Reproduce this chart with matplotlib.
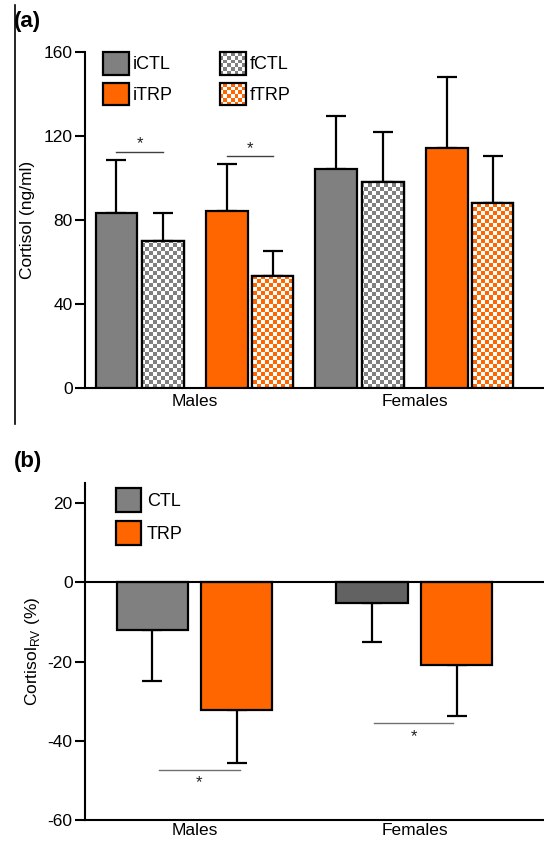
import numpy as np
import matplotlib
matplotlib.use("Agg")
import matplotlib.pyplot as plt
from matplotlib.patches import Rectangle
from matplotlib.legend_handler import HandlerPatch
from matplotlib.lines import Line2D

plt.rcParams['font.family'] = ['Liberation Sans', 'DejaVu Sans']
plt.rcParams['axes.unicode_minus'] = False

# ---------------- data ----------------
groups = ["Males", "Females"]
a_series = ["iCTL", "fCTL", "iTRP", "fTRP"]
a_means = {"iCTL": [83.2, 104.3], "fCTL": [70.1, 98.1],
           "iTRP": [84.4, 114.3], "fTRP": [53.5, 88.1]}
a_err = {"iCTL": [25.2, 25.1], "fCTL": [13.4, 23.8],
         "iTRP": [22.1, 33.6], "fTRP": [11.9, 22.2]}
a_yticks = [0, 40, 80, 120, 160]
# significance markers panel a: (group, series_from, series_to, y)
a_sig = [(0, "iCTL", "fCTL", 112.4), (0, "iTRP", "fTRP", 110.3)]

b_series = ["CTL", "TRP"]
b_means = {"CTL": [-11.9, -5.1], "TRP": [-32.1, -20.8]}
b_err = {"CTL": [12.9, 9.9], "TRP": [13.4, 13.0]}
b_yticks = [-60, -40, -20, 0, 20]
# significance markers panel b: (group, x_from, x_to, y_line, y_star)
b_sig = [(0, -0.16, 0.205, -47.4, -50.6), (1, -0.184, 0.177, -35.6, -38.9)]

# ---------------- style ----------------
GRAY = "#808080"
GRAY_DARK = "#626262"
ORANGE = "#FF6600"
a_colors = {"iCTL": GRAY, "fCTL": GRAY, "iTRP": ORANGE, "fTRP": ORANGE}
a_checker = {"iCTL": False, "fCTL": True, "iTRP": False, "fTRP": True}
a_offsets = {"iCTL": -0.355, "fCTL": -0.143, "iTRP": 0.148, "fTRP": 0.355}
a_width = 0.19
b_offsets = {"CTL": -0.193, "TRP": 0.193}
b_width = 0.323
b_colors = {"CTL": [GRAY, GRAY_DARK], "TRP": [ORANGE, ORANGE]}

W, H = 544, 841
fig = plt.figure(figsize=(W / 100, H / 100), dpi=100)

def fx(px):
    return px / W

def fy(py):
    return 1 - py / H

ax_a = fig.add_axes([fx(85), fy(388), fx(544) - fx(85), fy(52) - fy(388)])
ax_b = fig.add_axes([fx(85), fy(820), fx(544) - fx(85), fy(482.7) - fy(820)])

XLIM = (-0.498, 1.589)


def checker_image(color, ncols, nrows):
    rgb = np.array(matplotlib.colors.to_rgb(color))
    yy, xx = np.mgrid[0:nrows, 0:ncols]
    mask = (xx + yy) % 2 == 0
    img = np.ones((nrows, ncols, 3))
    img[mask] = rgb
    return img


class CheckerHandler(HandlerPatch):
    def __init__(self, color, n=7, **kw):
        super().__init__(**kw)
        self.color = color
        self.n = n

    def create_artists(self, legend, orig_handle, xdescent, ydescent,
                       width, height, fontsize, trans):
        arts = []
        bg = Rectangle((-xdescent, -ydescent), width, height,
                       facecolor="white", edgecolor="none", transform=trans)
        arts.append(bg)
        nx = self.n
        ny = int(round(self.n * height / width))
        cw, ch = width / nx, height / ny
        for i in range(nx):
            for j in range(ny):
                if (i + j) % 2 == 0:
                    arts.append(Rectangle((-xdescent + i * cw, -ydescent + j * ch),
                                          cw, ch, facecolor=self.color,
                                          edgecolor="none", transform=trans))
        border = Rectangle((-xdescent, -ydescent), width, height,
                           facecolor="none", edgecolor="black", lw=1.6,
                           transform=trans)
        arts.append(border)
        return arts


def style_axes(ax):
    for s in ["top", "right"]:
        ax.spines[s].set_visible(False)
    for s in ["left", "bottom"]:
        ax.spines[s].set_linewidth(1.5)
    ax.tick_params(axis="y", length=7, width=1.5, labelsize=12.5, pad=2)
    ax.tick_params(axis="x", length=0, labelsize=12.5)
    ax.set_xlim(*XLIM)
    ax.set_xticks(range(len(groups)))
    ax.set_xticklabels(groups)


# ---------------- panel a ----------------
x = np.arange(len(groups))
handles_a = {}
for s in a_series:
    xs = x + a_offsets[s]
    fc = "white" if a_checker[s] else a_colors[s]
    bars = ax_a.bar(xs, a_means[s], width=a_width, color=fc,
                    edgecolor="black", linewidth=1.6, zorder=3)
    ax_a.errorbar(xs, a_means[s], yerr=[np.zeros(len(groups)), a_err[s]],
                  fmt="none", ecolor="black", elinewidth=1.6, capsize=7.5,
                  capthick=1.6, zorder=2)
    if a_checker[s]:
        img = checker_image(a_colors[s], 115, 84)
        for b in bars:
            im = ax_a.imshow(img, extent=(XLIM[0], XLIM[1], 0, 160),
                             aspect="auto", interpolation="nearest",
                             zorder=3.5)
            im.set_clip_path(b)
            ax_a.bar(b.get_x() + b.get_width() / 2, b.get_height(),
                     width=b.get_width(), color="none", edgecolor="black",
                     linewidth=1.6, zorder=4)
    handles_a[s] = Rectangle((0, 0), 1, 1, facecolor=fc, edgecolor="black", lw=1.6)

ax_a.set_ylim(0, 160)
ax_a.set_yticks(a_yticks)
style_axes(ax_a)
ax_a.set_aspect("auto")
ax_a.set_xlim(*XLIM)
ax_a.tick_params(axis="x", pad=4)
ax_a.set_ylabel("Cortisol (ng/ml)", fontsize=12.5, labelpad=6)

for g, s1, s2, yv in a_sig:
    x1 = g + a_offsets[s1]
    x2 = g + a_offsets[s2]
    ax_a.plot([x1, x2], [yv, yv], color="#404040", lw=1.0, zorder=3)
    ax_a.text((x1 + x2) / 2, yv + 0.3, "*", ha="center", va="bottom",
              fontsize=12, color="#202020")

leg_a = ax_a.legend([handles_a["iCTL"], handles_a["iTRP"], handles_a["fCTL"], handles_a["fTRP"]],
                    ["iCTL", "iTRP", "fCTL", "fTRP"], ncol=2, frameon=False,
                    loc="upper left", bbox_to_anchor=(fx(103), fy(52)),
                    bbox_transform=fig.transFigure, borderpad=0, borderaxespad=0,
                    fontsize=13, handlelength=1.45, handleheight=1.55,
                    labelspacing=0.45, handletextpad=0.2, columnspacing=2.6,
                    handler_map={handles_a["fCTL"]: CheckerHandler(GRAY),
                                 handles_a["fTRP"]: CheckerHandler(ORANGE)})

# ---------------- panel b ----------------
handles_b = {}
for s in b_series:
    xs = x + b_offsets[s]
    ax_b.bar(xs, b_means[s], width=b_width, color=b_colors[s],
             edgecolor="black", linewidth=1.6, zorder=3)
    ax_b.errorbar(xs, b_means[s], yerr=[b_err[s], np.zeros(len(groups))],
                  fmt="none", ecolor="black", elinewidth=1.6, capsize=7,
                  capthick=1.6, zorder=2)
    handles_b[s] = Rectangle((0, 0), 1, 1, facecolor=b_colors[s][0],
                             edgecolor="black", lw=1.6)

ax_b.axhline(0, color="black", lw=1.5, zorder=4)
ax_b.set_ylim(-60, 25.2)
ax_b.set_yticks(b_yticks)
style_axes(ax_b)
ax_b.tick_params(axis="x", pad=2)
ax_b.set_ylabel(r"Cortisol$_{\mathregular{RV}}$ (%)", fontsize=12.5, labelpad=4)

for g, x1, x2, yl, ys in b_sig:
    ax_b.plot([g + x1, g + x2], [yl, yl], color="#707070", lw=1.0, zorder=3)
    ax_b.text(g + (x1 + x2) / 2, ys, "*", ha="center", va="center",
              fontsize=12, color="#202020")

ax_b.legend([handles_b["CTL"], handles_b["TRP"]], ["CTL", "TRP"],
            frameon=False, loc="upper left", bbox_to_anchor=(fx(116), fy(488)),
            bbox_transform=fig.transFigure, borderpad=0, borderaxespad=0,
            fontsize=13, handlelength=1.4, handleheight=1.7,
            labelspacing=0.45, handletextpad=0.3)

# ---------------- panel labels & frame line ----------------
fig.text(fx(14), fy(22), "(a)", fontsize=16, fontweight="bold", ha="left", va="center")
fig.text(fx(14), fy(462), "(b)", fontsize=16, fontweight="bold", ha="left", va="center")
fig.add_artist(Line2D([fx(15), fx(15)], [fy(5), fy(424)], color="black", lw=1.2,
                      transform=fig.transFigure))

fig.savefig("out.png", dpi=100)
